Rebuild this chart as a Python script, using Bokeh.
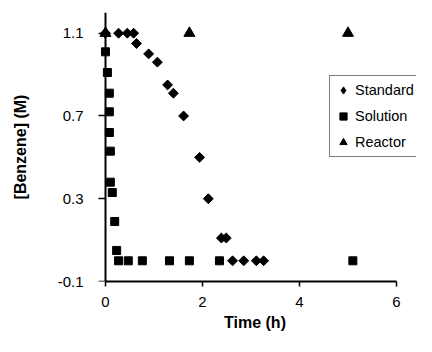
import numpy as np
from bokeh.plotting import figure
from bokeh.models import Range1d, FixedTicker, Legend, LegendItem, LinearAxis
from bokeh.embed import file_html
from bokeh.resources import INLINE

# Data
std_t = [0.0, 0.27, 0.45, 0.58, 0.64, 0.89, 1.07, 1.28, 1.40, 1.61, 1.94, 2.12, 2.39, 2.49, 2.62, 2.85, 3.11, 3.26]
std_y = [1.10, 1.10, 1.10, 1.10, 1.05, 1.00, 0.96, 0.85, 0.81, 0.70, 0.50, 0.30, 0.11, 0.11, 0.00, 0.00, 0.00, 0.00]

sol_t = [0.0, 0.04, 0.08, 0.08, 0.08, 0.10, 0.10, 0.14, 0.19, 0.23, 0.27, 0.47, 0.76, 1.32, 1.73, 2.35, 5.10]
sol_y = [1.01, 0.91, 0.81, 0.72, 0.62, 0.53, 0.38, 0.33, 0.19, 0.05, 0.00, 0.00, 0.00, 0.00, 0.00, 0.00, 0.00]

rea_t = [0.0, 1.73, 5.00]
rea_y = [1.10, 1.10, 1.10]

series_names = ["Standard", "Solution", "Reactor"]

x_ticks = [0, 2, 4, 6]
x_tick_labels = ["0", "2", "4", "6"]
y_ticks = [-0.1, 0.3, 0.7, 1.1]
y_tick_labels = ["-0.1", "0.3", "0.7", "1.1"]

FONT = "Liberation Sans"

p = figure(width=416, height=336, output_backend="svg", toolbar_location=None,
           x_range=Range1d(-0.247, 6.412), y_range=Range1d(-0.1, 1.2),
           min_border_left=93, min_border_right=0, min_border_top=12, min_border_bottom=55)
p.grid.visible = False
p.outline_line_color = None
p.background_fill_color = "white"

r1 = p.scatter(std_t, std_y, marker="square", size=7, angle=np.pi / 4,
               fill_color="black", line_color="black")
r2 = p.scatter(sol_t, sol_y, marker="square", size=8,
               fill_color="black", line_color="black")
r3 = p.scatter(rea_t, rea_y, marker="triangle", size=11,
               fill_color="black", line_color="black")
# swatch-only renderer for the legend (diamond shape); its single point is NaN, so nothing is plotted
r1_leg = p.scatter(x=[float("nan")], y=[float("nan")], marker="diamond", size=7,
                   fill_color="black", line_color="black")

# x axis
xa = p.xaxis[0]
xa.ticker = FixedTicker(ticks=x_ticks)
xa.major_label_overrides = dict(zip(x_ticks, x_tick_labels))
xa.bounds = (0, 6)
xa.axis_label = "Time (h)"
xa.axis_line_width = 2
xa.axis_line_color = "black"
xa.major_tick_line_width = 1.5
xa.major_tick_line_color = "black"
xa.major_tick_out = 5
xa.major_tick_in = 0
xa.minor_tick_line_color = None
xa.major_label_standoff = 10
xa.major_label_text_font = FONT
xa.major_label_text_font_size = "15px"
xa.major_label_text_color = "black"
xa.axis_label_text_font = FONT
xa.axis_label_text_font_size = "16px"
xa.axis_label_text_font_style = "bold"
xa.axis_label_text_color = "black"
xa.axis_label_standoff = 4

# y axis line and ticks, crossing at t = 0
ya = p.yaxis[0]
ya.fixed_location = 0
ya.ticker = FixedTicker(ticks=y_ticks)
ya.axis_line_width = 2
ya.axis_line_color = "black"
ya.major_tick_line_width = 1.5
ya.major_tick_line_color = "black"
ya.major_tick_out = 7
ya.major_tick_in = 0
ya.minor_tick_line_color = None
ya.major_label_text_color = None
ya.major_label_text_font_size = "1px"

# y axis labels and title
ya2 = LinearAxis(ticker=FixedTicker(ticks=y_ticks))
ya2.major_label_overrides = dict(zip(y_ticks, y_tick_labels))
ya2.axis_label = "[Benzene] (M)"
ya2.axis_line_color = None
ya2.major_tick_line_color = None
ya2.minor_tick_line_color = None
ya2.major_tick_out = 0
ya2.major_tick_in = 0
ya2.major_label_standoff = 10
ya2.major_label_text_font = FONT
ya2.major_label_text_font_size = "15px"
ya2.major_label_text_color = "black"
ya2.axis_label_text_font = FONT
ya2.axis_label_text_font_size = "16px"
ya2.axis_label_text_font_style = "bold"
ya2.axis_label_text_color = "black"
ya2.axis_label_standoff = 26
p.add_layout(ya2, "left")

legend = Legend(items=[LegendItem(label=series_names[0], renderers=[r1_leg]),
                       LegendItem(label=series_names[1], renderers=[r2]),
                       LegendItem(label=series_names[2], renderers=[r3])],
                location=(236, 124))
legend.margin = 0
legend.padding = 4
legend.spacing = 6
legend.glyph_width = 18
legend.glyph_height = 20
legend.label_height = 20
legend.label_standoff = 3
legend.label_text_font = FONT
legend.label_text_font_size = "14.5px"
legend.label_text_color = "black"
legend.border_line_color = "black"
legend.border_line_width = 1.5
legend.background_fill_color = "white"
legend.background_fill_alpha = 1.0
p.add_layout(legend)

open("out.html", "w").write(file_html(p, INLINE))
